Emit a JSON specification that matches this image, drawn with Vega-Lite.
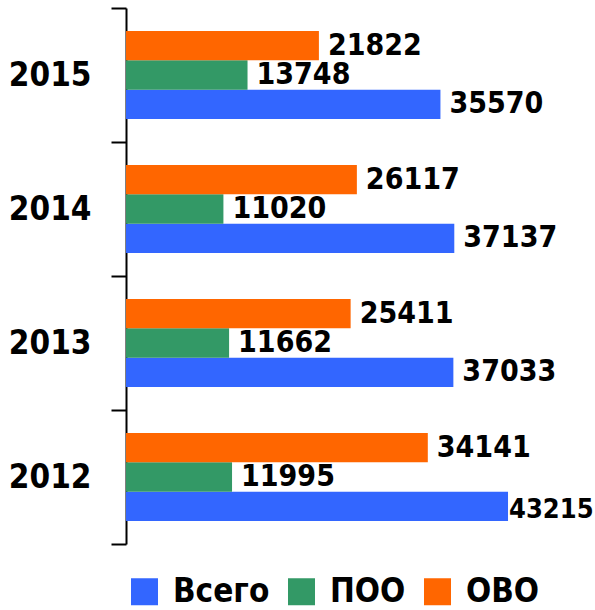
{
  "$schema": "https://vega.github.io/schema/vega-lite/v6.json",
  "autosize": {"type": "none"},
  "width": 442,
  "height": 536,
  "padding": {"left": 126, "top": 8, "right": 27, "bottom": 66},
  "background": "white",
  "config": {"view": {"stroke": null}, "font": "DejaVu Sans Condensed, sans-serif"},
  "data": {
    "values": [
      {"year": "2015", "series": "Всего", "value": 35570},
      {"year": "2015", "series": "ПОО", "value": 13748},
      {"year": "2015", "series": "ОВО", "value": 21822},
      {"year": "2014", "series": "Всего", "value": 37137},
      {"year": "2014", "series": "ПОО", "value": 11020},
      {"year": "2014", "series": "ОВО", "value": 26117},
      {"year": "2013", "series": "Всего", "value": 37033},
      {"year": "2013", "series": "ПОО", "value": 11662},
      {"year": "2013", "series": "ОВО", "value": 25411},
      {"year": "2012", "series": "Всего", "value": 43215},
      {"year": "2012", "series": "ПОО", "value": 11995},
      {"year": "2012", "series": "ОВО", "value": 34141}
    ]
  },
  "encoding": {
    "y": {
      "field": "year", "type": "nominal",
      "sort": ["2015", "2014", "2013", "2012"],
      "scale": {"paddingInner": 0, "paddingOuter": 0},
      "axis": {
        "title": null, "domainColor": "black", "domainWidth": 2,
        "tickColor": "black", "tickWidth": 2, "tickSize": 15, "tickBand": "extent",
        "labelFontSize": 33, "labelFontWeight": "bold", "labelColor": "black",
        "labelPadding": 20, "labelFont": "DejaVu Sans Condensed, sans-serif"
      }
    },
    "yOffset": {
      "field": "series", "type": "nominal",
      "sort": ["ОВО", "ПОО", "Всего"],
      "scale": {"paddingInner": 0, "paddingOuter": 0.78}
    },
    "x": {
      "field": "value", "type": "quantitative",
      "scale": {"domain": [0, 50000], "nice": false},
      "axis": null
    }
  },
  "layer": [
    {
      "mark": {"type": "bar", "cornerRadius": 0},
      "encoding": {
        "color": {
          "field": "series", "type": "nominal",
          "scale": {"domain": ["Всего", "ПОО", "ОВО"], "range": ["#3366FF", "#339966", "#FF6600"]},
          "legend": {
            "orient": "none", "legendX": 2, "legendY": 567, "direction": "horizontal",
            "title": null, "padding": 0,
            "symbolType": "square", "symbolSize": 729, "symbolStrokeWidth": 0,
            "labelFontSize": 33, "labelFontWeight": "bold", "labelColor": "black",
            "labelOffset": 12, "columnPadding": 15,
            "labelFont": "DejaVu Sans Condensed, sans-serif"
          }
        }
      }
    },
    {
      "transform": [{"filter": "!(datum.year == '2012' && datum.series == 'Всего')"}],
      "mark": {"type": "text", "align": "left", "baseline": "middle", "dx": 9, "fontSize": 30, "fontWeight": "bold", "color": "black"},
      "encoding": {
        "text": {"field": "value", "type": "quantitative", "format": "d"}
      }
    },
    {
      "transform": [{"filter": "datum.year == '2012' && datum.series == 'Всего'"}],
      "mark": {"type": "text", "align": "left", "baseline": "middle", "dx": 1, "dy": 4, "fontSize": 27, "fontWeight": "bold", "color": "black"},
      "encoding": {
        "text": {"field": "value", "type": "quantitative", "format": "d"}
      }
    }
  ]
}
